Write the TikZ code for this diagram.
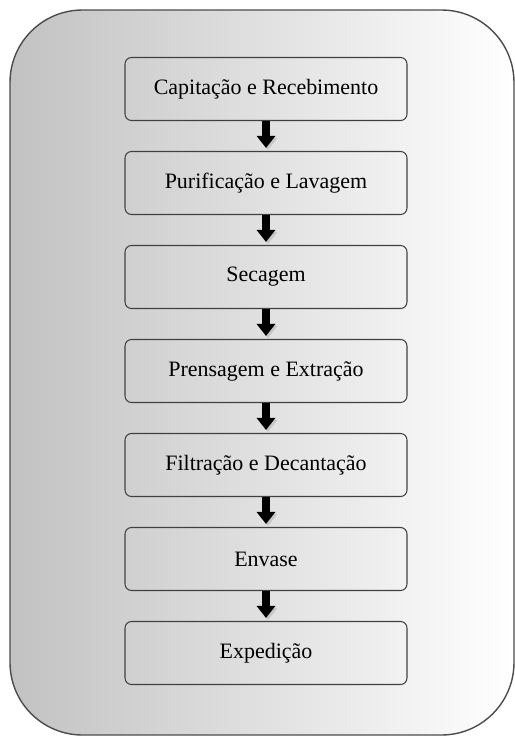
\documentclass[tikz,border=0pt]{standalone}
\usepackage{fontspec}
\setmainfont{Liberation Serif}
\usetikzlibrary{arrows.meta}

\begin{document}
\begin{tikzpicture}[node distance=1.88cm, auto,
    etapa/.style={draw=black!75, line width=0.6pt, rounded corners=0.13cm,
      minimum width=5.64cm, minimum height=1.26cm, font=\fontsize{12.5}{14}\selectfont},
    seta/.style={line width=0.16cm, -{Triangle[width=0.36cm,length=0.24cm]}, shorten >=0.06cm,
      preaction={draw=gray!45, transform canvas={shift={(0.04,-0.04)}}}}]
      \useasboundingbox (0,0) rectangle (10.3,-14.74);
      \draw[draw=black!70, line width=0.8pt, rounded corners=1.45cm, left color=gray!48, right color=white]
        (0.2,-0.2) rectangle (10.28,-14.7);
      \node[etapa] (Cap) at (5.32,-1.78) {Capitação e Recebimento};
      \node[etapa] (Pur) [below of=Cap] {Purificação e Lavagem};
      \node[etapa] (Sec) [below of=Pur] {Secagem};
      \node[etapa] (Pre) [below of=Sec] {Prensagem e Extração};
      \node[etapa] (Fil) [below of=Pre] {Filtração e Decantação};
      \node[etapa] (Env) [below of=Fil] {Envase};
      \node[etapa] (Exp) [below of=Env] {Expedição};
      \draw[seta] (Cap) to (Pur);
      \draw[seta] (Pur) to (Sec);
      \draw[seta] (Sec) to (Pre);
      \draw[seta] (Pre) to (Fil);
      \draw[seta] (Fil) to (Env);
      \draw[seta] (Env) to (Exp);
    \end{tikzpicture}
\end{document}
